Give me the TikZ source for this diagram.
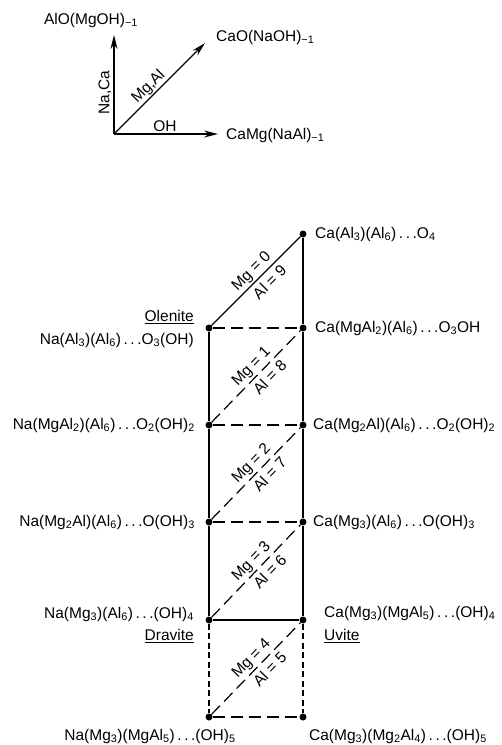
\documentclass[tikz,border=0pt]{standalone}
\usepackage{fontspec}
\setmainfont{Liberation Sans}
\usetikzlibrary{arrows.meta}
\newcommand{\dts}{\,.\,.\,.}
\newcommand{\sbs}[1]{\textsubscript{#1}}

\begin{document}
\begin{tikzpicture}[x=1pt,y=-1pt,font=\fontsize{15.5}{18}\selectfont,
  pt/.style={circle,fill,inner sep=0pt,minimum size=7pt},
  vec/.style={line width=1.4pt,-{Stealth[length=14pt,width=7pt]}},
  rail/.style={line width=1.2pt},
  rung/.style={line width=1.2pt,dash pattern=on 12pt off 6pt},
  fine/.style={line width=1.2pt,dash pattern=on 6pt off 3.5pt},
  frm/.style={inner sep=1pt},
  mgl/.style={sloped,above,inner sep=2pt,pos=0.53},
  all/.style={sloped,below,inner sep=4pt,pos=0.57}]
\useasboundingbox (0,0) rectangle (502,745);
\coordinate (o) at (114,134);
\coordinate (tna) at (114,35);
\coordinate (tmg) at (205,43);
\coordinate (toh) at (218,134);
\node[frm] (alo) at (91,20) {AlO(MgOH)\sbs{−1}};
\node[frm,anchor=west] (cao) at (215,37) {CaO(NaOH)\sbs{−1}};
\node[frm,anchor=west] (camg) at (225,135) {CaMg(NaAl)\sbs{−1}};
\draw[vec] (o) -- node[rotate=90,anchor=south,pos=0.42,inner sep=2pt] {Na,Ca} (tna);
\draw[vec] (o) -- node[sloped,above,pos=0.45,inner sep=1pt] {Mg,Al} (tmg);
\draw[vec] (o) -- node[above,pos=0.49,inner sep=2pt] {OH} (toh);
\node[pt] (r0) at (303,234) {};
\node[pt] (l1) at (209,328) {};
\node[pt] (r1) at (303,328) {};
\node[pt] (l2) at (209,425) {};
\node[pt] (r2) at (303,425) {};
\node[pt] (l3) at (209,522) {};
\node[pt] (r3) at (303,522) {};
\node[pt] (l4) at (209,620) {};
\node[pt] (r4) at (303,620) {};
\node[pt] (l5) at (209,717) {};
\node[pt] (r5) at (303,717) {};
\draw[rail] (l1) -- node[mgl] {Mg = 0} node[all] {Al = 9} (r0);
\draw[rail] (r0) -- (r1);
\draw[rail] (l1) -- (l2) -- (l3) -- (l4);
\draw[rail] (r1) -- (r2) -- (r3) -- (r4);
\draw[rail] (l4) -- (r4);
\draw[rung] (l1) -- (r1);
\draw[rung] (l2) -- (r2);
\draw[rung] (l3) -- (r3);
\draw[rung] (l5) -- (r5);
\draw[rung] (l2) -- node[mgl] {Mg = 1} node[all] {Al = 8} (r1);
\draw[rung] (l3) -- node[mgl] {Mg = 2} node[all] {Al = 7} (r2);
\draw[rung] (l4) -- node[mgl] {Mg = 3} node[all] {Al = 6} (r3);
\draw[rung] (l5) -- node[mgl] {Mg = 4} node[all] {Al = 5} (r4);
\draw[fine] (l4) -- (l5);
\draw[fine] (r4) -- (r5);
\node[frm,anchor=west] (f0) at (314,234) {Ca(Al\sbs{3})(Al\sbs{6})\dts O\sbs{4}};
\node[frm,anchor=west] (f1r) at (314,328) {Ca(MgAl\sbs{2})(Al\sbs{6})\dts O\sbs{3}OH};
\node[frm,anchor=east] (ole) at (195,317) {\underline{Olenite}};
\node[frm,anchor=east] (f1l) at (195,340) {Na(Al\sbs{3})(Al\sbs{6})\dts O\sbs{3}(OH)};
\node[frm,anchor=east] (f2l) at (196,425) {Na(MgAl\sbs{2})(Al\sbs{6})\dts O\sbs{2}(OH)\sbs{2}};
\node[frm,anchor=west] (f2r) at (312,425) {Ca(Mg\sbs{2}Al)(Al\sbs{6})\dts O\sbs{2}(OH)\sbs{2}};
\node[frm,anchor=east] (f3l) at (196,522) {Na(Mg\sbs{2}Al)(Al\sbs{6})\dts O(OH)\sbs{3}};
\node[frm,anchor=west] (f3r) at (312,522) {Ca(Mg\sbs{3})(Al\sbs{6})\dts O(OH)\sbs{3}};
\node[frm,anchor=east] (f4l) at (195,614) {Na(Mg\sbs{3})(Al\sbs{6})\dts(OH)\sbs{4}};
\node[frm,anchor=east] (dra) at (195,636) {\underline{Dravite}};
\node[frm,anchor=west] (f4r) at (323,613) {Ca(Mg\sbs{3})(MgAl\sbs{5})\dts(OH)\sbs{4}};
\node[frm,anchor=west] (uvi) at (323,636) {\underline{Uvite}};
\node[frm] (f5l) at (150,736) {Na(Mg\sbs{3})(MgAl\sbs{5})\dts(OH)\sbs{5}};
\node[frm] (f5r) at (398,736) {Ca(Mg\sbs{3})(Mg\sbs{2}Al\sbs{4})\dts(OH)\sbs{5}};
\end{tikzpicture}
\end{document}
